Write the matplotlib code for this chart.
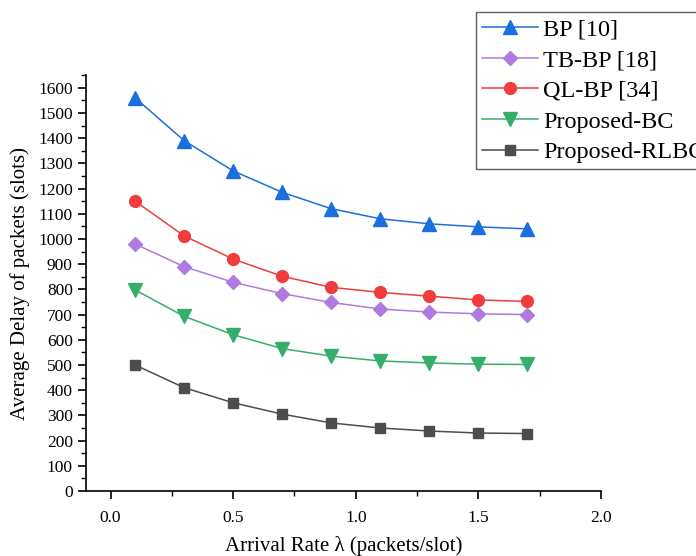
import matplotlib
matplotlib.use("Agg")
import matplotlib.pyplot as plt
from matplotlib.ticker import MultipleLocator

plt.rcParams['font.family'] = ['Liberation Serif', 'DejaVu Serif']

# arrival rates (packets/slot)
rates = [0.1, 0.3, 0.5, 0.7, 0.9, 1.1, 1.3, 1.5, 1.7]

bp = [1560, 1390, 1270, 1185, 1120, 1080, 1060, 1048, 1040]
tb_bp = [980, 890, 828, 783, 748, 722, 710, 703, 700]
ql_bp = [1150, 1012, 920, 852, 808, 788, 773, 758, 752]
proposed_bc = [798, 693, 620, 565, 535, 516, 508, 503, 502]
proposed_rlbc = [500, 410, 350, 305, 270, 250, 238, 230, 228]

series = [
    ("BP [10]", bp, "#1a6fdf", "^", 9.5),
    ("TB-BP [18]", tb_bp, "#b07ae0", "D", 7.5),
    ("QL-BP [34]", ql_bp, "#f03c3c", "o", 8.5),
    ("Proposed-BC", proposed_bc, "#37ad6b", "v", 9.5),
    ("Proposed-RLBC", proposed_rlbc, "#4d4d4d", "s", 7.5),
]

fig = plt.figure(figsize=(6.96, 5.56), dpi=100)
ax = fig.add_axes([0.1236, 0.1169, 0.74, 0.748])

for label, vals, color, mk, ms in series:
    ax.plot(rates, vals, color=color, marker=mk, markersize=ms, linewidth=1.1,
            label=label)

ax.set_xlim(-0.1, 2.0)
ax.set_ylim(0, 1650)
ax.xaxis.set_major_locator(MultipleLocator(0.5))
ax.xaxis.set_minor_locator(MultipleLocator(0.25))
ax.yaxis.set_major_locator(MultipleLocator(100))
ax.yaxis.set_minor_locator(MultipleLocator(50))
ax.set_xticks([0.0, 0.5, 1.0, 1.5, 2.0])
ax.set_xticklabels(["0.0", "0.5", "1.0", "1.5", "2.0"])

for side in ("top", "right"):
    ax.spines[side].set_visible(False)
for side in ("left", "bottom"):
    ax.spines[side].set_linewidth(1.2)

ax.tick_params(which="major", direction="out", length=6, width=1.2, labelsize=12.5)
ax.tick_params(which="minor", direction="out", length=3.5, width=1.0)
ax.tick_params(axis="x", pad=8)

ax.set_xlabel("Arrival Rate λ (packets/slot)", fontsize=15, labelpad=7)
ax.set_ylabel("Average Delay of packets (slots)", fontsize=15, labelpad=6)

# legend sits partly outside the figure, as in the source
leg = fig.legend(loc="upper left", bbox_to_anchor=(0.684, 0.978),
                 fontsize=17.5, frameon=True, fancybox=False,
                 handlelength=2.3, labelspacing=0.36, borderpad=0.25,
                 handletextpad=0.2, borderaxespad=0)
leg.get_frame().set_edgecolor("#333333")
leg.get_frame().set_linewidth(1.0)

fig.savefig("out.png", dpi=100)
